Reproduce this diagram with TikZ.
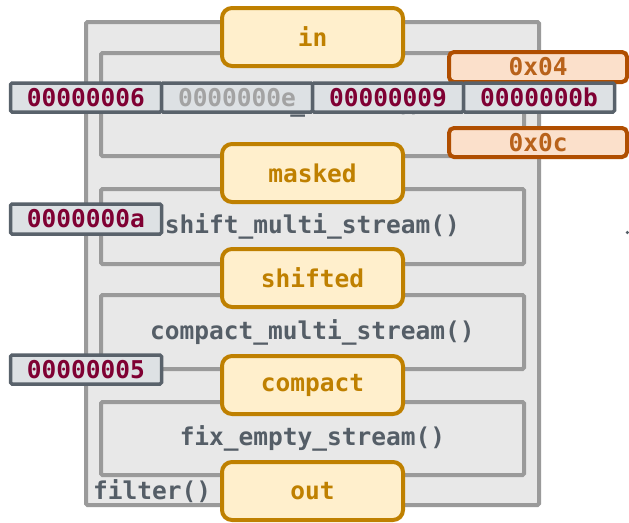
\documentclass[tikz,border=0pt]{standalone}
\usepackage{fontspec}
\newfontfamily\monof{DejaVu Sans Mono}
\newcommand\mbf{\monof\bfseries\fontsize{24.5pt}{29pt}\selectfont}
\definecolor{boxgray}{HTML}{9A9A9A}
\definecolor{boxfill}{HTML}{E8E8E8}
\definecolor{streamborder}{HTML}{BF8000}
\definecolor{streamfill}{HTML}{FFEFCC}
\definecolor{cellborder}{HTML}{59626B}
\definecolor{cellfill}{HTML}{DDE1E4}
\definecolor{cellred}{HTML}{7F0033}
\definecolor{cellgraytext}{HTML}{A3A3A3}
\definecolor{hexborder}{HTML}{B04E00}
\definecolor{hexfill}{HTML}{FBE0CB}
\definecolor{hextext}{HTML}{B8621B}
\definecolor{labelgray}{HTML}{555E67}
\begin{document}
\begin{tikzpicture}[x=1pt,y=-1pt,
  graybox/.style={draw=boxgray, line width=4pt, fill=boxfill, rounded corners=1.5pt, inner sep=0pt, minimum width=423pt},
  stream/.style={draw=streamborder, line width=4pt, fill=streamfill, rounded corners=10pt, minimum width=181pt, minimum height=58pt, inner sep=0pt, text=streamborder, font=\mbf},
  cell/.style={draw=cellborder, line width=3.5pt, fill=cellfill, rounded corners=1.5pt, minimum width=151pt, minimum height=29pt, inner sep=0pt, text=cellred, font=\mbf},
  hexbox/.style={draw=hexborder, line width=4pt, fill=hexfill, rounded corners=5pt, minimum width=178pt, minimum height=30pt, inner sep=0pt, text=hextext, font=\mbf},
  stagelabel/.style={text=labelgray, font=\mbf, inner sep=0pt},
]
\useasboundingbox (0,0) rectangle (629,522);
% outer filter() box
\node[graybox, minimum width=453pt, minimum height=483pt] (filter) at (312.5,263.5) {};
% inner stage boxes
\node[graybox, minimum height=103pt] (stage1) at (312.5,104.5) {};
\node[graybox, minimum height=75pt] (stage2) at (312.5,226.5) {};
\node[graybox, minimum height=74pt] (stage3) at (312.5,332) {};
\node[graybox, minimum height=73pt] (stage4) at (312.5,438.5) {};
% stage labels
\node[stagelabel] (lab1) at (312.5,105.5) {select\_stream()};
\node[stagelabel] (lab2) at (312.5,226.5) {shift\_multi\_stream()};
\node[stagelabel] (lab3) at (312.5,332) {compact\_multi\_stream()};
\node[stagelabel] (lab4) at (312.5,438.5) {fix\_empty\_stream()};
\node[stagelabel, anchor=west] (labf) at (93,491) {filter()};
% streams
\node[stream] (in) at (312.5,37) {in};
\node[stream] (masked) at (312.5,173) {masked};
\node[stream] (shifted) at (312.5,278) {shifted};
\node[stream] (compact) at (312.5,385) {compact};
\node[stream] (out) at (312.5,491) {out};
% hex masks
\node[hexbox] (m1) at (538,67) {0x04};
\node[hexbox, minimum height=29pt] (m2) at (538,142.5) {0x0c};
% data row
\node[cell] (c1) at (86,97.5) {00000006};
\node[cell, text=cellgraytext] (c2) at (237,97.5) {0000000e};
\node[cell] (c3) at (388,97.5) {00000009};
\node[cell] (c4) at (539,97.5) {0000000b};
% side cells
\node[cell, minimum height=30pt] (sa) at (86,219) {0000000a};
\node[cell] (sb) at (86,369.5) {00000005};
% stray dot at right edge
\fill[labelgray] (627.3,232.5) circle (1.8pt);
\end{tikzpicture}
\end{document}
